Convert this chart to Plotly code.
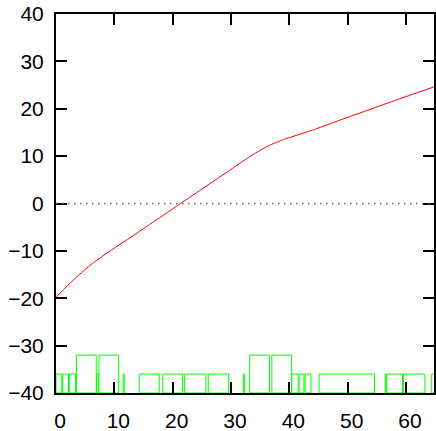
import plotly.graph_objects as go

# Red curve
curve_x = [0, 2, 4, 6, 8, 10, 12, 15, 18, 21, 24, 27, 30, 32, 34, 35, 36, 37, 38, 39, 40, 42, 44, 48, 53, 58, 65]
curve_y = [-19.8, -17.3, -15.0, -12.9, -11.1, -9.4, -7.8, -5.3, -2.8, -0.3, 2.2, 4.7, 7.2,
           8.9, 10.5, 11.2, 11.9, 12.5, 13.0, 13.5, 13.9, 14.7, 15.5, 17.3, 19.5, 21.7, 24.7]

# Green boxes at the bottom (left edge, right edge, top value)
box_left = [0.0, 1.15, 2.3, 3.5, 6.95, 7.35, 11.5, 14.25, 18.3, 22.0, 26.1, 32.1, 33.2, 37.0,
            40.4, 41.7, 42.7, 45.1, 56.45, 56.7, 59.55, 64.4]
box_right = [1.0, 2.15, 3.35, 6.9, 7.25, 10.75, 11.7, 17.7, 21.7, 25.7, 29.6, 32.3, 36.6, 40.4,
             41.5, 42.5, 43.7, 54.6, 56.6, 59.4, 63.25, 66.0]
box_top = [-36, -36, -36, -32, -36, -32, -36, -36, -36, -36, -36, -36, -32, -32,
           -36, -36, -36, -36, -36, -36, -36, -36]
box_base = -40

x_ticks = [0, 10, 20, 30, 40, 50, 60]
y_ticks = [-40, -30, -20, -10, 0, 10, 20, 30, 40]

fig = go.Figure()

fig.add_trace(go.Bar(
    x=[(l + r) / 2 for l, r in zip(box_left, box_right)],
    y=[t - box_base for t in box_top],
    width=[r - l for l, r in zip(box_left, box_right)],
    base=box_base,
    marker=dict(color="rgba(0,0,0,0)", line=dict(color="#00ff00", width=1)),
    showlegend=False,
))

fig.add_trace(go.Scatter(
    x=curve_x, y=curve_y, mode="lines",
    line=dict(color="#ff0000", width=1, shape="spline", smoothing=0.6),
    showlegend=False,
))

fig.add_hline(y=0, line=dict(color="#666666", width=1.5, dash="1.5px,4.5px"))

axis_common = dict(
    showline=True, linecolor="black", linewidth=2,
    mirror="ticks", ticks="inside", ticklen=11, tickwidth=2, tickcolor="black",
    showgrid=False, zeroline=False, automargin=False,
    tickfont=dict(family="Liberation Sans, Arial", size=21, color="black"),
)

fig.update_xaxes(range=[0, 64.8], tickvals=x_ticks, ticklabelstandoff=8,
                 ticklabelshift=4, **axis_common)
fig.update_yaxes(range=[-40, 40], tickvals=y_ticks, ticklabelstandoff=6, **axis_common)

fig.update_layout(
    width=436, height=431,
    margin=dict(l=56, r=2, t=14, b=38),
    plot_bgcolor="white", paper_bgcolor="white",
    barmode="overlay",
)

fig.write_html("out.html")
